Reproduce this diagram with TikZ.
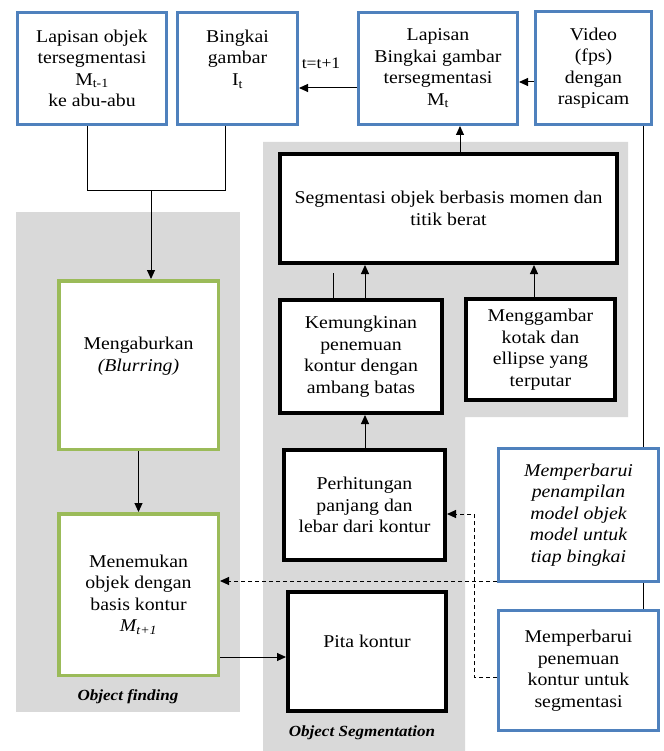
\documentclass[tikz,border=0pt]{standalone}
\usepackage{fontspec}
\setmainfont{Liberation Serif}[FakeStretch=1.1]
\usetikzlibrary{arrows.meta}
\definecolor{bblue}{HTML}{4F81BD}
\definecolor{bgreen}{HTML}{9BBB59}
\definecolor{bgray}{HTML}{D9D9D9}
\begin{document}
\begin{tikzpicture}[x=1pt,y=-1pt,
  box/.style={draw, fill=white, align=center, inner sep=0pt, font=\fontsize{18}{21.5}\selectfont},
  bluebox/.style={box, draw=bblue, line width=3pt},
  greenbox/.style={box, draw=bgreen, line width=3.5pt},
  blackbox/.style={box, draw=black, line width=4pt},
  conn/.style={line width=1pt},
  arr/.style={conn, -{Triangle[length=9pt,width=8pt]}},
  dsh/.style={conn, dash pattern=on 4pt off 3pt},
  grp/.style={font=\fontsize{15.5}{19}\selectfont\bfseries\itshape}
]
\useasboundingbox (0,0) rectangle (663,751);
\fill[white] (0,0) rectangle (663,751);
% gray regions
\fill[bgray] (16,212) rectangle (240,712);
\fill[bgray] (263,142) -- (628,142) -- (628,417) -- (465,417) -- (465,751) -- (263,751) -- cycle;
% top boxes
\node[bluebox, minimum width=149pt, minimum height=112pt] (b1) at (92,68.5)
  {Lapisan objek\\ tersegmentasi\\ M\textsubscript{t-1}\\ ke abu-abu};
\node[bluebox, minimum width=120pt, minimum height=112pt] (b2) at (237.5,68.5)
  {Bingkai\\ gambar\\ I\textsubscript{t}\\ \mbox{}};
\node[bluebox, minimum width=159pt, minimum height=112pt] (b3) at (438,68.5)
  {Lapisan\\ Bingkai gambar\\ tersegmentasi\\ M\textsubscript{t}};
\node[bluebox, minimum width=116pt, minimum height=113pt] (b4) at (593.5,68)
  {Video\\ (fps)\\ dengan\\ raspicam};
\node[font=\fontsize{16}{19}\selectfont] (tt) at (321,63) {t=t+1};
% segmentation boxes
\node[blackbox, minimum width=337pt, minimum height=109pt] (sg) at (448.5,208.5)
  {Segmentasi objek berbasis momen dan\\ titik berat};
\node[blackbox, minimum width=162pt, minimum height=113pt] (km) at (361,356.5)
  {Kemungkinan\\ penemuan\\ kontur dengan\\ ambang batas};
\node[blackbox, minimum width=149pt, minimum height=101pt] (mg) at (540.5,349.5)
  {Menggambar\\ kotak dan\\ ellipse yang\\ terputar};
\node[blackbox, minimum width=161pt, minimum height=110pt] (ph) at (364.5,505)
  {Perhitungan\\ panjang dan\\ lebar dari kontur};
\node[blackbox, minimum width=158pt, minimum height=119pt] (pk) at (367,651.5)
  {Pita kontur\\ \mbox{}};
% right boxes
\node[bluebox, minimum width=160pt, minimum height=133pt, font=\fontsize{18}{21.5}\selectfont\itshape] (mp1) at (578.5,515)
  {Memperbarui\\ penampilan\\ model objek\\ model untuk\\ tiap bingkai};
\node[bluebox, minimum width=160pt, minimum height=120pt] (mp2) at (578.5,670.5)
  {Memperbarui\\ penemuan\\ kontur untuk\\ segmentasi};
% object finding boxes
\node[greenbox, minimum width=159.5pt, minimum height=168.5pt] (mk) at (138.5,365)
  {Mengaburkan\\ \textit{(Blurring)}\\ \mbox{}};
\node[greenbox, minimum width=159.5pt, minimum height=161.5pt] (mn) at (138.5,594.5)
  {Menemukan\\ objek dengan\\ basis kontur\\ \textit{M\textsubscript{t+1}}};
% group labels
\node[grp] (lof) at (128,697) {Object finding};
\node[grp] (los) at (362,733) {Object Segmentation};
% connectors
\coordinate (j1) at (151,191);
\coordinate (p1) at ([xshift=-5pt]b1.south);
\coordinate (p2) at ([xshift=-12.5pt]b2.south);
\draw[conn] (p1) |- (j1);
\draw[conn] (p2) |- (j1);
\draw[arr] (j1) -- (j1 |- mk.north);
\draw[arr] (mk) -- (mn);
\coordinate (p3) at ([yshift=-62.5pt]mn.east);
\draw[arr] (p3) -- (p3 -| pk.west);
\coordinate (p4) at ([xshift=0.5pt]ph.north);
\draw[arr] (p4) -- (p4 |- km.south);
\coordinate (p5) at ([xshift=4pt]km.north);
\draw[arr] (p5) -- (p5 |- sg.south);
\coordinate (s1) at (333,273);
\draw[conn] (s1) -- (s1 |- km.north);
\coordinate (p6) at ([xshift=-6.5pt]mg.north);
\draw[arr] (p6) -- (p6 |- sg.south);
\coordinate (p7) at ([xshift=11.5pt]sg.north);
\draw[arr] (p7) -- (p7 |- b3.south);
\coordinate (p8) at ([yshift=-19.5pt]b3.west);
\draw[arr] (p8) -- (p8 -| b2.east);
\coordinate (p9) at ([yshift=-14pt]b4.west);
\draw[arr] (p9) -- (p9 -| b3.east);
\coordinate (p10) at ([xshift=49.5pt]b4.south);
\draw[conn] (p10) -- (p10 |- mp1.north);
\coordinate (p11) at ([xshift=64.5pt]mp1.south);
\draw[conn] (p11) -- (p11 |- mp2.north);
\coordinate (p12) at ([yshift=-66pt]mp1.west);
\draw[dsh, arr] (p12) -- (p12 -| mn.east);
\coordinate (d1) at (474,0);
\coordinate (p13) at ([yshift=-6.5pt]mp2.west);
\coordinate (e1) at ([yshift=-9pt]ph.east);
\draw[dsh, arr] (p13) -| (e1 -| d1) -- (e1);
\end{tikzpicture}
\end{document}
